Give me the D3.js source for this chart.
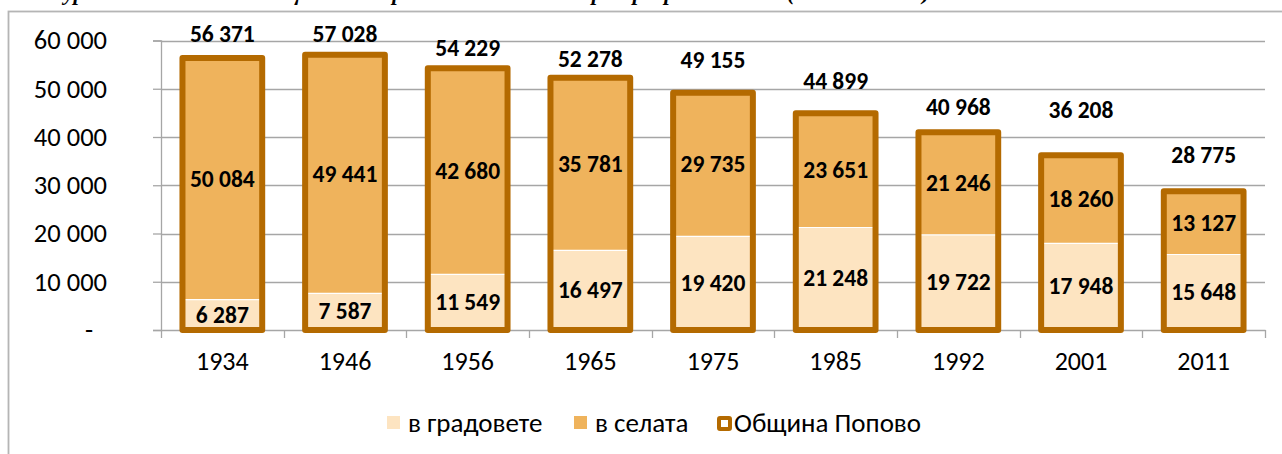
<!DOCTYPE html>
<html>
<head>
<meta charset="utf-8">
<script src="https://cdn.jsdelivr.net/npm/d3@7"></script>
<style>
  body { margin: 0; background: #fff; }
  svg { display: block; }
  text { font-family: Carlito, Calibri, "Open Sans", sans-serif; fill: #000; }
</style>
</head>
<body>
<div id="chart"></div>
<script>
// census years and population counts
var years = ["1934", "1946", "1956", "1965", "1975", "1985", "1992", "2001", "2011"]
var towns = [6287, 7587, 11549, 16497, 19420, 21248, 19722, 17948, 15648]
var villages = [50084, 49441, 42680, 35781, 29735, 23651, 21246, 18260, 13127]
var totals = [56371, 57028, 54229, 52278, 49155, 44899, 40968, 36208, 28775]
var yTicks = [0, 10000, 20000, 30000, 40000, 50000, 60000]
var seriesNames = ["в градовете", "в селата", "Община Попово"]

// total labels were nudged by hand in the original, px above bar top
var totalLift = [24, 21, 20, 19, 33, 32, 25, 45, 36]
var legendX = [387, 574, 717]

var W = 1282, H = 454
var plot = {left: 161, right: 1265, top: 40.5, bottom: 330}
var colors = {town: "#FDE4C1", village: "#EFB35C", edge: "#B46A00", grid: "#A6A6A6"}

var fmt = d3.formatLocale({decimal: ",", thousands: " ", grouping: [3], currency: ["", ""]}).format(",d")

var svg = d3.select("#chart").append("svg")
	.attr("width", W)
	.attr("height", H)

// title, mostly cut off at the top of the picture
svg.append("text")
	.attr("x", 25)
	.attr("y", 0)
	.style("font-family", "'Liberation Serif', 'Times New Roman', serif")
	.style("font-weight", "bold")
	.style("font-style", "italic")
	.style("font-size", "22px")
	.text("Фигура 3. Население на общината в градовете и селата при преброяванията (1934 – 2011 г.)")

// chart frame
svg.append("rect")
	.attr("x", 8.5)
	.attr("y", 11.5)
	.attr("width", 1400)
	.attr("height", 600)
	.attr("fill", "none")
	.attr("stroke", "#B5B5B5")
	.attr("stroke-width", 1.8)

var x = d3.scaleBand()
	.domain(years)
	.range([plot.left, plot.right])
	.paddingInner(0.35)
	.paddingOuter(0.175)

var y = d3.scaleLinear()
	.domain([0, 60000])
	.range([plot.bottom, plot.top])

// gridlines
svg.append("g")
	.selectAll("line")
	.data(yTicks.slice(1))
	.enter()
	.append("line")
	.attr("x1", plot.left)
	.attr("x2", plot.right)
	.attr("y1", function(d) { return Math.round(y(d)) + 0.5 })
	.attr("y2", function(d) { return Math.round(y(d)) + 0.5 })
	.attr("stroke", colors.grid)
	.attr("stroke-width", 1.3)

// y axis
var yAxis = svg.append("g")
	.attr("transform", "translate(" + plot.left + ",0)")
	.call(d3.axisLeft(y)
		.tickValues(yTicks)
		.tickSize(8)
		.tickPadding(46)
		.tickFormat(function(d) { return d === 0 ? "-" : fmt(d) }))
yAxis.select(".domain").attr("stroke", colors.grid).attr("stroke-width", 1.3)
yAxis.selectAll(".tick line").attr("stroke", colors.grid).attr("stroke-width", 1.3)
yAxis.selectAll(".tick text")
	.style("font-size", "26.5px")
	.style("font-family", null)
	.attr("fill", "#000")
	.attr("dx", function(d) { return d === 0 ? -14 : 0 })

// x axis
var xAxis = svg.append("g")
	.attr("transform", "translate(0," + plot.bottom + ")")
	.call(d3.axisBottom(x).tickSize(0).tickPadding(22))
xAxis.select(".domain").attr("stroke", colors.grid).attr("stroke-width", 1.3)
xAxis.selectAll(".tick text")
	.style("font-size", "26px")
	.style("font-family", null)
	.attr("fill", "#000")

// category boundary ticks
var bounds = years.map(function(c) { return x(c) - x.step() * x.paddingInner() / 2 })
bounds.push(plot.right)
xAxis.selectAll(".sep")
	.data(bounds)
	.enter()
	.append("line")
	.attr("class", "sep")
	.attr("x1", function(d) { return Math.round(d) + 0.5 })
	.attr("x2", function(d) { return Math.round(d) + 0.5 })
	.attr("y1", 0)
	.attr("y2", 8)
	.attr("stroke", colors.grid)
	.attr("stroke-width", 1.3)

// stacked fills
var rows = years.map(function(c, i) { return {year: c, town: towns[i], village: villages[i], total: totals[i]} })
var stack = d3.stack().keys(["town", "village"])(rows)

var layers = svg.append("g")
	.selectAll("g")
	.data(stack)
	.enter()
	.append("g")
	.attr("fill", function(d) { return colors[d.key] })

layers.selectAll("rect")
	.data(function(d) { return d })
	.enter()
	.append("rect")
	.attr("x", function(d) { return x(d.data.year) })
	.attr("width", x.bandwidth())
	.attr("y", function(d) { return y(d[1]) })
	.attr("height", function(d) { return y(d[0]) - y(d[1]) })

// thin white seam between towns and villages
svg.append("g")
	.selectAll("line")
	.data(rows)
	.enter()
	.append("line")
	.attr("x1", function(d) { return x(d.year) })
	.attr("x2", function(d) { return x(d.year) + x.bandwidth() })
	.attr("y1", function(d) { return y(d.town) })
	.attr("y2", function(d) { return y(d.town) })
	.attr("stroke", "#fff")
	.attr("stroke-width", 1.2)

// total outline bars
svg.append("g")
	.selectAll("rect")
	.data(rows)
	.enter()
	.append("rect")
	.attr("x", function(d) { return x(d.year) })
	.attr("width", x.bandwidth())
	.attr("y", function(d) { return y(d.total) })
	.attr("height", function(d) { return y(0) - y(d.total) })
	.attr("fill", "none")
	.attr("stroke", colors.edge)
	.attr("stroke-width", 6)
	.attr("stroke-linejoin", "round")

// segment labels
layers.selectAll("text")
	.data(function(d) { return d })
	.enter()
	.append("text")
	.attr("x", function(d) { return x(d.data.year) + x.bandwidth() / 2 })
	.attr("y", function(d) { return (y(d[0]) + y(d[1])) / 2 })
	.attr("dy", "0.33em")
	.attr("text-anchor", "middle")
	.style("font-size", "23.5px")
	.style("font-weight", "bold")
	.text(function(d) { return fmt(d[1] - d[0]) })

// total labels
svg.append("g")
	.selectAll("text")
	.data(rows)
	.enter()
	.append("text")
	.attr("x", function(d) { return x(d.year) + x.bandwidth() / 2 })
	.attr("y", function(d, i) { return y(d.total) - totalLift[i] })
	.attr("dy", "0.33em")
	.attr("text-anchor", "middle")
	.style("font-size", "23.5px")
	.style("font-weight", "bold")
	.text(function(d) { return fmt(d.total) })

// legend
var legend = svg.append("g")
	.selectAll("g")
	.data(seriesNames)
	.enter()
	.append("g")
	.attr("transform", function(d, i) { return "translate(" + legendX[i] + ",416)" })

legend.append("rect")
	.attr("x", function(d, i) { return i === 2 ? 2 : 0 })
	.attr("y", function(d, i) { return i === 2 ? 2 : 0 })
	.attr("width", function(d, i) { return i === 2 ? 11 : 13 })
	.attr("height", function(d, i) { return i === 2 ? 11 : 13 })
	.attr("rx", function(d, i) { return i === 2 ? 1 : 0 })
	.attr("fill", function(d, i) { return i === 0 ? colors.town : i === 1 ? colors.village : "#fff" })
	.attr("stroke", function(d, i) { return i === 2 ? colors.edge : "none" })
	.attr("stroke-width", 4)
	.attr("stroke-linejoin", "round")

legend.append("text")
	.attr("x", function(d, i) { return i === 2 ? 17 : 21 })
	.attr("y", 7)
	.attr("dy", "0.34em")
	.style("font-size", "27px")
	.text(function(d) { return d })
</script>
</body>
</html>
